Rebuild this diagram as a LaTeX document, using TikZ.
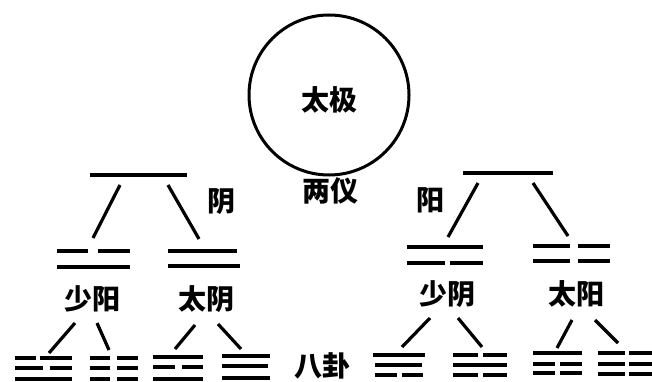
\documentclass[tikz,border=0pt]{standalone}
\usepackage{fontspec}
\newfontfamily\cjk{Noto Sans CJK SC}
\begin{document}
\begin{tikzpicture}[x=1pt,y=-1pt,
  yao/.style={line width=3.5pt},
  thickyao/.style={line width=4.5pt},
  branch/.style={line width=3.2pt},
  lbl/.style={font=\cjk\bfseries\fontsize{28}{28}\selectfont, inner sep=0pt}]
\useasboundingbox (0,0) rectangle (652,382);
% Taiji circle
\node[circle, draw, line width=3pt, minimum size=160pt, inner sep=0pt] (taiji) at (329,95) {};
\node[lbl] (taijitxt) at (329,100) {太极};
\node[lbl] (liangyi) at (330,191) {两仪};
\node[lbl] (yinlbl) at (221,202) {阴};
\node[lbl] (yanglbl) at (430,200) {阳};
\node[lbl] (shaoyang) at (92,299) {少阳};
\node[lbl] (taiyin) at (206,299) {太阴};
\node[lbl] (shaoyin) at (447,294) {少阴};
\node[lbl] (taiyang) at (576,294) {太阳};
\node[lbl] (bagua) at (322,366) {八卦};
% two top lines
\draw[yao] (90,175) -- (187,175);
\draw[yao] (463,173) -- (553,173);
% branch end points, level 1 -> 2
\coordinate (a1) at (120,185); \coordinate (a2) at (93,238);
\coordinate (b1) at (168,185); \coordinate (b2) at (199,239);
\coordinate (c1) at (478,183); \coordinate (c2) at (448,237);
\coordinate (d1) at (533,183); \coordinate (d2) at (568,236);
\draw[branch] (a1) -- (a2);
\draw[branch] (b1) -- (b2);
\draw[branch] (c1) -- (c2);
\draw[branch] (d1) -- (d2);
% level 2 lines
% shaoyang
\draw[yao] (57,251) -- (88,251); \draw[yao] (98,251) -- (130,251);
\draw[thickyao] (57,267) -- (130,267);
% taiyin
\draw[yao] (168,251) -- (237,251);
\draw[thickyao] (168,266) -- (240,266);
% shaoyin
\draw[yao] (407,247) -- (483,247);
\draw[thickyao] (407,263) -- (445,263); \draw[thickyao] (450,263) -- (483,263);
% taiyang
\draw[thickyao] (533,246) -- (570,246); \draw[thickyao] (578,246) -- (610,246);
\draw[thickyao] (533,261) -- (570,261); \draw[thickyao] (578,261) -- (610,261);
% branches level 2 -> 3
\coordinate (e1) at (75,323);  \coordinate (e2) at (49,353);
\coordinate (f1) at (97,323);  \coordinate (f2) at (109,350);
\coordinate (g1) at (195,325); \coordinate (g2) at (175,349);
\coordinate (h1) at (218,324); \coordinate (h2) at (241,349);
\coordinate (i1) at (430,318); \coordinate (i2) at (402,347);
\coordinate (j1) at (458,318); \coordinate (j2) at (482,347);
\coordinate (k1) at (572,320); \coordinate (k2) at (557,348);
\coordinate (l1) at (595,320); \coordinate (l2) at (618,343);
\foreach \p in {e,f,g,h,i,j,k,l} \draw[branch] (\p1) -- (\p2);
% trigrams, left
% T1
\draw[yao] (15,358) -- (36,358); \draw[yao] (40,358) -- (72,358);
\draw[yao] (15,368) -- (43,368); \draw[yao] (50,368) -- (72,368);
\draw[thickyao] (15,379) -- (72,379);
% T2
\draw[yao] (90,358) -- (110,358); \draw[yao] (117,358) -- (138,358);
\draw[yao] (90,368) -- (110,368); \draw[yao] (117,368) -- (138,368);
\draw[thickyao] (90,379) -- (110,379); \draw[thickyao] (117,379) -- (138,379);
% T3
\draw[yao] (153,357) -- (203,357);
\draw[yao] (153,367) -- (175,367); \draw[yao] (182,367) -- (203,367);
\draw[thickyao] (153,379) -- (203,379);
% T4
\draw[yao] (222,356) -- (270,356);
\draw[yao] (222,366) -- (268,366);
\draw[thickyao] (222,378) -- (270,378);
% trigrams, right
% T5
\draw[yao] (373,355) -- (425,355);
\draw[yao] (375,365) -- (422,365);
\draw[yao] (375,375) -- (397,375); \draw[yao] (402,375) -- (423,375);
% T6
\draw[yao] (453,355) -- (478,355); \draw[yao] (483,355) -- (507,355);
\draw[yao] (453,365) -- (507,365);
\draw[yao] (453,375) -- (478,375); \draw[yao] (483,375) -- (507,375);
% T7
\draw[yao] (533,353) -- (582,353);
\draw[yao] (533,364) -- (555,364); \draw[yao] (560,364) -- (582,364);
\draw[yao] (533,373) -- (555,373); \draw[yao] (560,373) -- (582,373);
% T8
\draw[thickyao] (598,353) -- (625,353); \draw[yao] (629,353) -- (652,353);
\draw[thickyao] (598,364) -- (625,364); \draw[yao] (629,364) -- (652,364);
\draw[thickyao] (598,374) -- (625,374); \draw[yao] (629,374) -- (652,374);
\end{tikzpicture}
\end{document}
